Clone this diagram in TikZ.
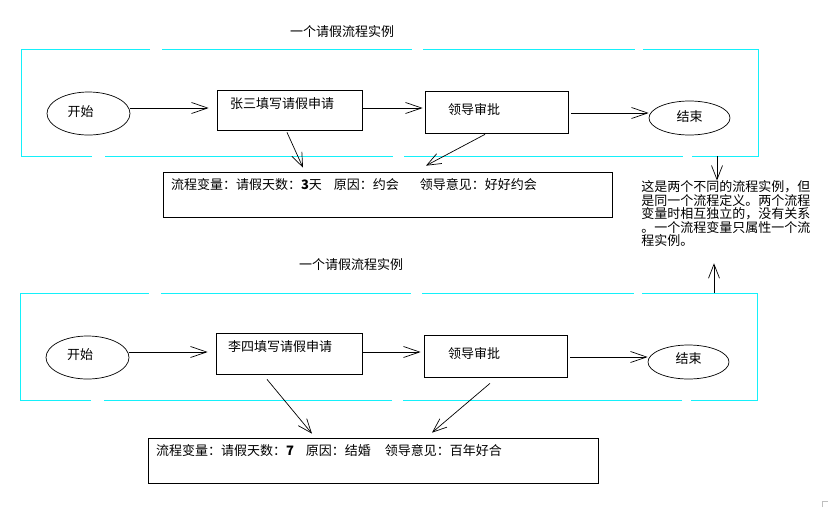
\documentclass[tikz,border=0pt]{standalone}
\usepackage{fontspec}
\setmainfont{Noto Sans CJK SC}
\usetikzlibrary{arrows.meta,shapes.geometric}
\definecolor{panelcyan}{RGB}{20,240,250}

\begin{document}
\begin{tikzpicture}[x=1pt,y=-1pt,line width=0.7pt,
  every node/.style={font=\fontsize{13}{14}\selectfont},
  lbl/.style={inner sep=0pt},
  txt/.style={lbl,anchor=west},
  pbox/.style={draw,rectangle,inner sep=0pt},
  term/.style={draw,ellipse,inner sep=0pt},
  panel/.style={rectangle,inner sep=0pt,outer sep=0pt,minimum width=737pt,minimum height=107pt},
  cyanframe/.style={draw=panelcyan,line width=0.9pt,dash pattern=on 129pt off 12pt on 250pt off 11pt on 212pt off 8pt
    on 288pt off 9pt on 279pt off 11pt on 288pt off 13pt on 178pt},
  flowarr/.style={-{Straight Barb[length=14pt,width=11pt]}},
  longarr/.style={-{Straight Barb[length=16pt,width=11pt]}}]
\useasboundingbox (0,0) rectangle (828,507);

\node[panel] (p1) at (389.5,102.5) {};
\draw[cyanframe] (p1.north west) -- (p1.north east) -- (p1.south east) -- (p1.south west) -- cycle;
\node (t1) at (342,32) {一个请假流程实例};
\node[term,minimum width=83pt,minimum height=43pt,
  label={[lbl,xshift=-8pt,yshift=1.5pt]center:开始}] (s1) at (88.5,113.5) {};
\node[pbox,minimum width=145pt,minimum height=40pt,
  label={[txt,xshift=13pt,yshift=6pt]west:张三填写请假申请}] (f1) at (289.5,110) {};
\node[pbox,minimum width=143pt,minimum height=42pt,
  label={[txt,xshift=23pt,yshift=2pt]west:领导审批}] (l1) at (496.5,112) {};
\node[term,minimum width=81pt,minimum height=34pt,
  label={[lbl,yshift=1pt]center:结束}] (e1) at (689.5,118) {};
\node[pbox,minimum width=449pt,minimum height=45pt,
  label={[txt,xshift=8pt,yshift=9.5pt]west:流程变量：请假天数：\textbf{3}天\hspace{12pt}原因：约会\hspace{21pt}领导意见：好好约会}]
  (v1) at (387.5,194.5) {};

\draw[longarr] ([yshift=5.5pt]s1.east) -- ([xshift=-8pt,yshift=2pt]f1.west);
\draw[longarr] ([yshift=2pt]f1.east) -- ([xshift=-2pt,yshift=4pt]l1.west);
\draw[longarr] ([xshift=3pt,yshift=-1pt]l1.east) -- ([yshift=5pt]e1.west);
\draw[flowarr] ([xshift=-2.5pt,yshift=-2pt]f1.south) -- ([xshift=-84.5pt,yshift=4pt]v1.north);
\draw[flowarr] ([xshift=-11.5pt,yshift=-1pt]l1.south) -- ([xshift=38.5pt,yshift=6pt]v1.north);

\node[lbl,anchor=north west,align=left,font=\fontsize{13}{13.5}\selectfont] (n) at (641,180.5)
  {这是两个不同的流程实例，但\\是同一个流程定义。两个流程\\变量时相互独立的，没有关系\\。一个流程变量只属性一个流\\程实例。};

\node[panel] (p2) at (388.5,346.5) {};
\draw[cyanframe] (p2.north west) -- (p2.north east) -- (p2.south east) -- (p2.south west) -- cycle;
\node (t2) at (351,265) {一个请假流程实例};
\node[term,minimum width=83pt,minimum height=43pt,
  label={[lbl,xshift=-7.5pt,yshift=2.5pt]center:开始}] (s2) at (87.5,357.5) {};
\node[pbox,minimum width=146pt,minimum height=41pt,
  label={[txt,xshift=12pt,yshift=6.5pt]west:李四填写请假申请}] (f2) at (289,353.5) {};
\node[pbox,minimum width=143pt,minimum height=42pt,
  label={[txt,xshift=24pt,yshift=2pt]west:领导审批}] (l2) at (495.5,356) {};
\node[term,minimum width=81pt,minimum height=34pt,
  label={[lbl,yshift=3pt]center:结束}] (e2) at (688.5,362) {};
\node[pbox,minimum width=450pt,minimum height=45pt,
  label={[txt,xshift=8pt,yshift=9.5pt]west:流程变量：请假天数：\textbf{7}\hspace{12pt}原因：结婚\hspace{14pt}领导意见：百年好合}]
  (v2) at (373,460.5) {};

\draw[longarr] ([yshift=5.5pt]s2.east) -- ([xshift=-8pt,yshift=1.5pt]f2.west);
\draw[longarr] ([yshift=1.5pt]f2.east) -- ([xshift=-3pt,yshift=4pt]l2.west);
\draw[longarr] ([xshift=3pt,yshift=-1pt]l2.east) -- ([yshift=5pt]e2.west);
\draw[flowarr] ([xshift=-22pt,yshift=-5pt]f2.south) -- ([xshift=-61pt,yshift=4pt]v2.north);
\draw[flowarr] ([xshift=-5.5pt,yshift=-6pt]l2.south) -- ([xshift=59pt,yshift=5pt]v2.north);

\draw[flowarr] ([xshift=-41pt]p1.south east) -- ([xshift=76pt]n.north west);
\draw[flowarr] ([xshift=-43pt]p2.north east) -- ([xshift=73pt,yshift=-16pt]n.south west);

\draw[gray!50,line width=0.5pt] (822,507) -- (822,501) -- (828,501);
\end{tikzpicture}
\end{document}
